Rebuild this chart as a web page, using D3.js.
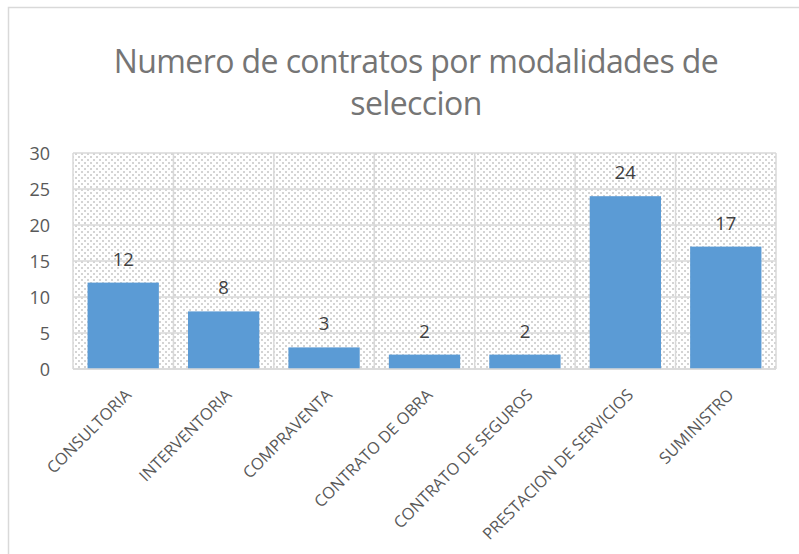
<!DOCTYPE html>
<html><head><meta charset="utf-8">
<script src="https://cdn.jsdelivr.net/npm/d3@7/dist/d3.min.js"></script>
<style>body{margin:0;background:#fff}svg{display:block}</style>
</head><body><svg id="c" width="799" height="554"></svg>
<script>
const categories = ["CONSULTORIA","INTERVENTORIA","COMPRAVENTA","CONTRATO DE OBRA","CONTRATO DE SEGUROS","PRESTACION DE SERVICIOS","SUMINISTRO"];
const values = [12, 8, 3, 2, 2, 24, 17];
const yTicks = [0, 5, 10, 15, 20, 25, 30];
const titleLines = ["Numero de contratos por modalidades de", "seleccion"];

const svg = d3.select("#c");
const font = "'Open Sans', 'Noto Sans', sans-serif";
const m = {left: 73, right: 776, top: 153, bottom: 369};

// chart border
svg.append("path").attr("d", "M8.5,554 V7.5 H799").attr("fill","none").attr("stroke","#d9d9d9").attr("stroke-width",1.5);

// pattern
const defs = svg.append("defs");
const pat = defs.append("pattern").attr("id","hatch").attr("patternUnits","userSpaceOnUse").attr("width",6).attr("height",6);
pat.append("rect").attr("width",6).attr("height",6).attr("fill","#ffffff");
[[0,0],[3,3]].forEach(([x,y]) => pat.append("rect").attr("x",x).attr("y",y).attr("width",2).attr("height",2).attr("fill","#d4d4d4"));

const x = d3.scaleBand().domain(categories).range([m.left, m.right]).paddingInner(0.29).paddingOuter(0.145);
const xb = d3.scaleBand().domain(categories).range([m.left, m.right]);
const y = d3.scaleLinear().domain([0, 30]).range([m.bottom, m.top]);

svg.append("rect").attr("x", m.left).attr("y", m.top).attr("width", m.right-m.left).attr("height", m.bottom-m.top).attr("fill","url(#hatch)");

// horizontal grid
svg.append("g").selectAll("line").data(yTicks).join("line")
  .attr("x1", m.left).attr("x2", m.right).attr("y1", d=>y(d)).attr("y2", d=>y(d))
  .attr("stroke","#d9d9d9").attr("stroke-width",1.5);
// vertical grid at category boundaries
const bounds = categories.map(c=>xb(c)).concat([m.right]);
svg.append("g").selectAll("line").data(bounds).join("line")
  .attr("x1", d=>d).attr("x2", d=>d).attr("y1", m.top).attr("y2", m.bottom)
  .attr("stroke","#d9d9d9").attr("stroke-width",1.5);

// y axis labels
const yAxis = d3.axisLeft(y).tickValues(yTicks).tickSize(0).tickPadding(0);
const gy = svg.append("g").attr("transform", `translate(50,0)`).call(yAxis);
gy.select(".domain").remove();
gy.selectAll("text").attr("font-family", font).attr("font-size", 18).attr("fill","#595959").attr("dy","0.35em");

// bars
svg.append("g").selectAll("rect").data(values).join("rect")
  .attr("x", (d,i)=>x(categories[i])).attr("width", x.bandwidth())
  .attr("y", d=>y(d)).attr("height", d=>y(0)-y(d)).attr("fill","#5b9bd5");

// data labels
svg.append("g").selectAll("text").data(values).join("text")
  .attr("x", (d,i)=>x(categories[i]) + x.bandwidth()/2).attr("y", d=>y(d)-17)
  .attr("text-anchor","middle").attr("font-family", font).attr("font-size", 18.5).attr("fill","#404040")
  .text(d=>d);

// x axis
svg.append("line").attr("x1", m.left).attr("x2", m.right).attr("y1", m.bottom).attr("y2", m.bottom).attr("stroke","#d9d9d9").attr("stroke-width",1.5);
const xAxis = d3.axisBottom(xb).tickSize(0).tickPadding(0);
const gx = svg.append("g").attr("transform", `translate(0,${m.bottom})`).call(xAxis);
gx.select(".domain").remove();
gx.selectAll("text")
  .attr("font-family", font).attr("font-size", 16.3).attr("fill","#595959")
  .attr("text-anchor","end").attr("dy", null).attr("y", 0)
  .attr("transform", "translate(9,27) rotate(-45)");

// title
svg.append("g").selectAll("text").data(titleLines).join("text")
  .attr("x", 416).attr("y", (d,i)=>73 + i*42)
  .attr("text-anchor","middle").attr("font-family", font).attr("font-size", 32).attr("fill","#757575")
  .attr("letter-spacing", -0.6)
  .text(d=>d);
</script></body></html>
